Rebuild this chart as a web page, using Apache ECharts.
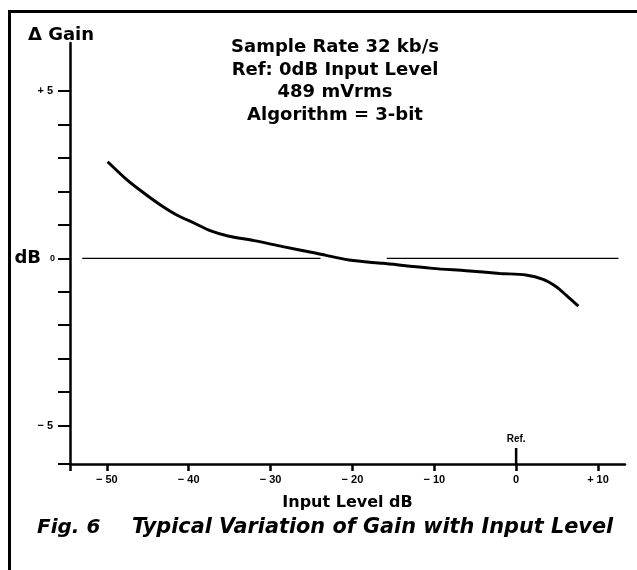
<!DOCTYPE html>
<html><head><meta charset="utf-8">
<script src="https://cdn.jsdelivr.net/npm/echarts@6/dist/echarts.min.js"></script>
<style>html,body{margin:0;padding:0;background:#fff}#c{width:637px;height:570px}</style>
</head><body><div id="c"></div>
<script>
// Input level (dB) and gain deviation (dB)
const inputLevel = [-49.9,-47.5,-45.4,-43.4,-41.4,-39.3,-37.3,-35.2,-32.0,-28.5,-24.4,-20.4,-16.3,-10.2,-6.1,-2.0,1.2,3.3,4.9,6.1,7.6];
const gainDelta  = [2.89,2.34,1.94,1.59,1.29,1.05,0.82,0.67,0.53,0.35,0.15,-0.05,-0.15,-0.30,-0.37,-0.45,-0.50,-0.63,-0.85,-1.10,-1.43];
// 0 dB reference line segments (x from, x to)
const zeroLineLeft  = [-53.0, -23.9];
const zeroLineRight = [-15.8, 12.5];
const xTicks = [-50,-40,-30,-20,-10,0,10];
const yTicks = [-5,-4,-3,-2,-1,0,1,2,3,4,5];
const yLabels = [-5,0,5];
const xRange = [-54.5, 13.3];
const yRange = [-6.15, 6.44];
const refTickTop = -5.67;
const annotation = ['Sample Rate 32 kb/s','Ref: 0dB Input Level','489 mVrms','Algorithm = 3-bit'];

const FONT = 'DejaVu Sans';
const chart = echarts.init(document.getElementById('c'), null, {renderer:'canvas'});

const curve = inputLevel.map((x,i)=>[x, gainDelta[i]]);
const annoY = [47, 70, 92.5, 115];

chart.setOption({
  backgroundColor:'#fff',
  animation:false,
  grid:{left:70,right:12,top:43,bottom:106,containLabel:false,outerBoundsMode:'none'},
  xAxis:{
    type:'value', min:xRange[0], max:xRange[1],
    axisLine:{onZero:false,lineStyle:{color:'#000',width:2.5}},
    axisTick:{show:true,customValues:[xRange[0]].concat(xTicks),length:7,lineStyle:{color:'#000',width:2.5}},
    axisLabel:{customValues:xTicks,margin:10,color:'#000',fontSize:11,fontWeight:'bold',fontFamily:'Liberation Sans',
      formatter:v=> v<0 ? '\u2212 '+Math.abs(v) : (v>0 ? '+ '+v : '0')},
    splitLine:{show:false},
    name:'Input Level dB', nameLocation:'middle', nameGap:31,
    nameTextStyle:{color:'#000',fontSize:16,fontWeight:'bold',fontFamily:FONT}
  },
  yAxis:{
    type:'value', min:yRange[0], max:yRange[1],
    axisLine:{show:true,onZero:false,lineStyle:{color:'#000',width:2.5}},
    axisTick:{show:true,customValues:[yRange[0]].concat(yTicks),length:12,lineStyle:{color:'#000',width:2}},
    axisLabel:{customValues:yLabels,margin:17,color:'#000',fontSize:11,fontWeight:'bold',fontFamily:'Liberation Sans',
      formatter:v=> v<0 ? '\u2212 '+Math.abs(v) : (v>0 ? '+ '+v : '{d|dB}{z|0}'),
      rich:{d:{fontSize:18,fontWeight:'bold',fontFamily:FONT,color:'#000'},
            z:{fontSize:9,fontWeight:'bold',fontFamily:'Liberation Sans',color:'#000',padding:[0,-2,0,9]}}},
    splitLine:{show:false}
  },
  series:[
    {type:'line',data:curve,smooth:0.3,symbol:'none',lineStyle:{color:'#000',width:3},z:3},
    {type:'line',data:zeroLineLeft.map(x=>[x,0]),symbol:'none',lineStyle:{color:'#000',width:1.3}},
    {type:'line',data:zeroLineRight.map(x=>[x,0]),symbol:'none',lineStyle:{color:'#000',width:1.3}},
    {type:'line',data:[[0,yRange[0]],{value:[0,refTickTop],label:{show:true,formatter:'Ref.',position:'top',distance:4,
        color:'#000',fontSize:10,fontWeight:'bold',fontFamily:'Liberation Sans'}}],
     symbol:'circle',symbolSize:0.1,lineStyle:{color:'#000',width:2.5}}
  ],
  graphic:[
    {type:'line',shape:{x1:8,y1:11.5,x2:637,y2:11.5},style:{stroke:'#000',lineWidth:3}},
    {type:'line',shape:{x1:9.5,y1:10,x2:9.5,y2:570},style:{stroke:'#000',lineWidth:3}},
    {type:'text',x:28,y:35,style:{text:'\u0394 Gain',font:'bold 18px "DejaVu Sans"',fill:'#000',textVerticalAlign:'middle'}},
  ].concat(annotation.map((t,i)=>({type:'text',x:335,y:annoY[i],
      style:{text:t,font:'bold 18px "DejaVu Sans"',fill:'#000',textAlign:'center',textVerticalAlign:'middle'}})))
   .concat([
    {type:'text',x:37,y:528,style:{text:'Fig. 6',font:'italic bold 20px "DejaVu Sans"',fill:'#000',textVerticalAlign:'middle'}},
    {type:'text',x:132,y:528,style:{text:'Typical Variation of Gain with Input Level',font:'italic bold 20.8px "DejaVu Sans"',fill:'#000',textVerticalAlign:'middle'}}
  ])
});
</script></body></html>
